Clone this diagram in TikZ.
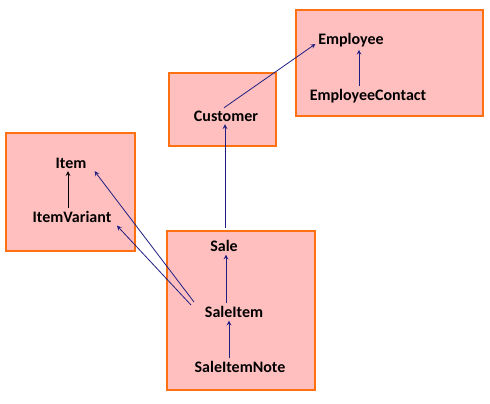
\documentclass[tikz,border=0pt]{standalone}
\usepackage{fontspec}
\setmainfont{Carlito}
\usetikzlibrary{arrows, calc}
\definecolor{boxfill}{RGB}{255,191,191}
\definecolor{boxline}{RGB}{255,112,16}
\definecolor{linkblue}{RGB}{30,30,130}
\tikzset{
    group/.style={draw=boxline, fill=boxfill, line width=0.8pt, minimum width=#1, inner sep=0pt},
    entity/.style={font=\fontsize{12}{14}\selectfont\bfseries, inner sep=2pt},
    link/.style={->, >=stealth, draw=linkblue, line width=0.6pt},
}

\begin{document}
\begin{tikzpicture}[x=0.75pt, y=-0.75pt]
        \useasboundingbox (0,0) rectangle (490,404);
        % the four groups
        \node[group=140.25pt, minimum height=79.5pt] (empbox) at (389.5,63) {};
        \node[group=80.25pt, minimum height=54.75pt] (custbox) at (222.5,109.5) {};
        \node[group=96.75pt, minimum height=88.5pt] (itembox) at (70.5,192) {};
        \node[group=111pt, minimum height=119.25pt] (salebox) at (241,310.5) {};
        
        \node[entity] (employee) at (351,40) {Employee};
        \node[entity] (empcontact) at (368,96) {EmployeeContact};
        \node[entity] (customer) at (226,116) {Customer};
        \node[entity] (item) at (71,163) {Item};
        \node[entity] (itemvariant) at (72,217) {ItemVariant};
        \node[entity] (sale) at (224,246) {Sale};
        \node[entity] (saleitem) at (234,312) {SaleItem};
        \node[entity] (saleitemnote) at (240,367) {SaleItemNote};
        
        % references
        \draw[link] ([xshift=-1.5pt]customer.north) -- ([yshift=-3pt]employee.west);
        \draw[link] (empcontact.north -| 359,0) -- (employee.south -| 359,0);
        \draw[link] ([yshift=2pt]salebox.north -| 225,0) -- (customer.south -| 225,0);
        \draw[link, draw=black] (itemvariant.north -| 68,0) -- (item.south -| 68,0);
        \draw[link] ([shift={(-8,-10)}]saleitem.west) -- ([xshift=4pt]item.south east);
        \draw[link] ([shift={(-11,-7)}]saleitem.west) -- ([xshift=2pt]itemvariant.south east);
        \draw[link] (saleitem.north -| 226,0) -- (sale.south -| 226,0);
        \draw[link] (saleitemnote.north -| 229,0) -- (saleitem.south -| 229,0);
    \end{tikzpicture}
\end{document}
